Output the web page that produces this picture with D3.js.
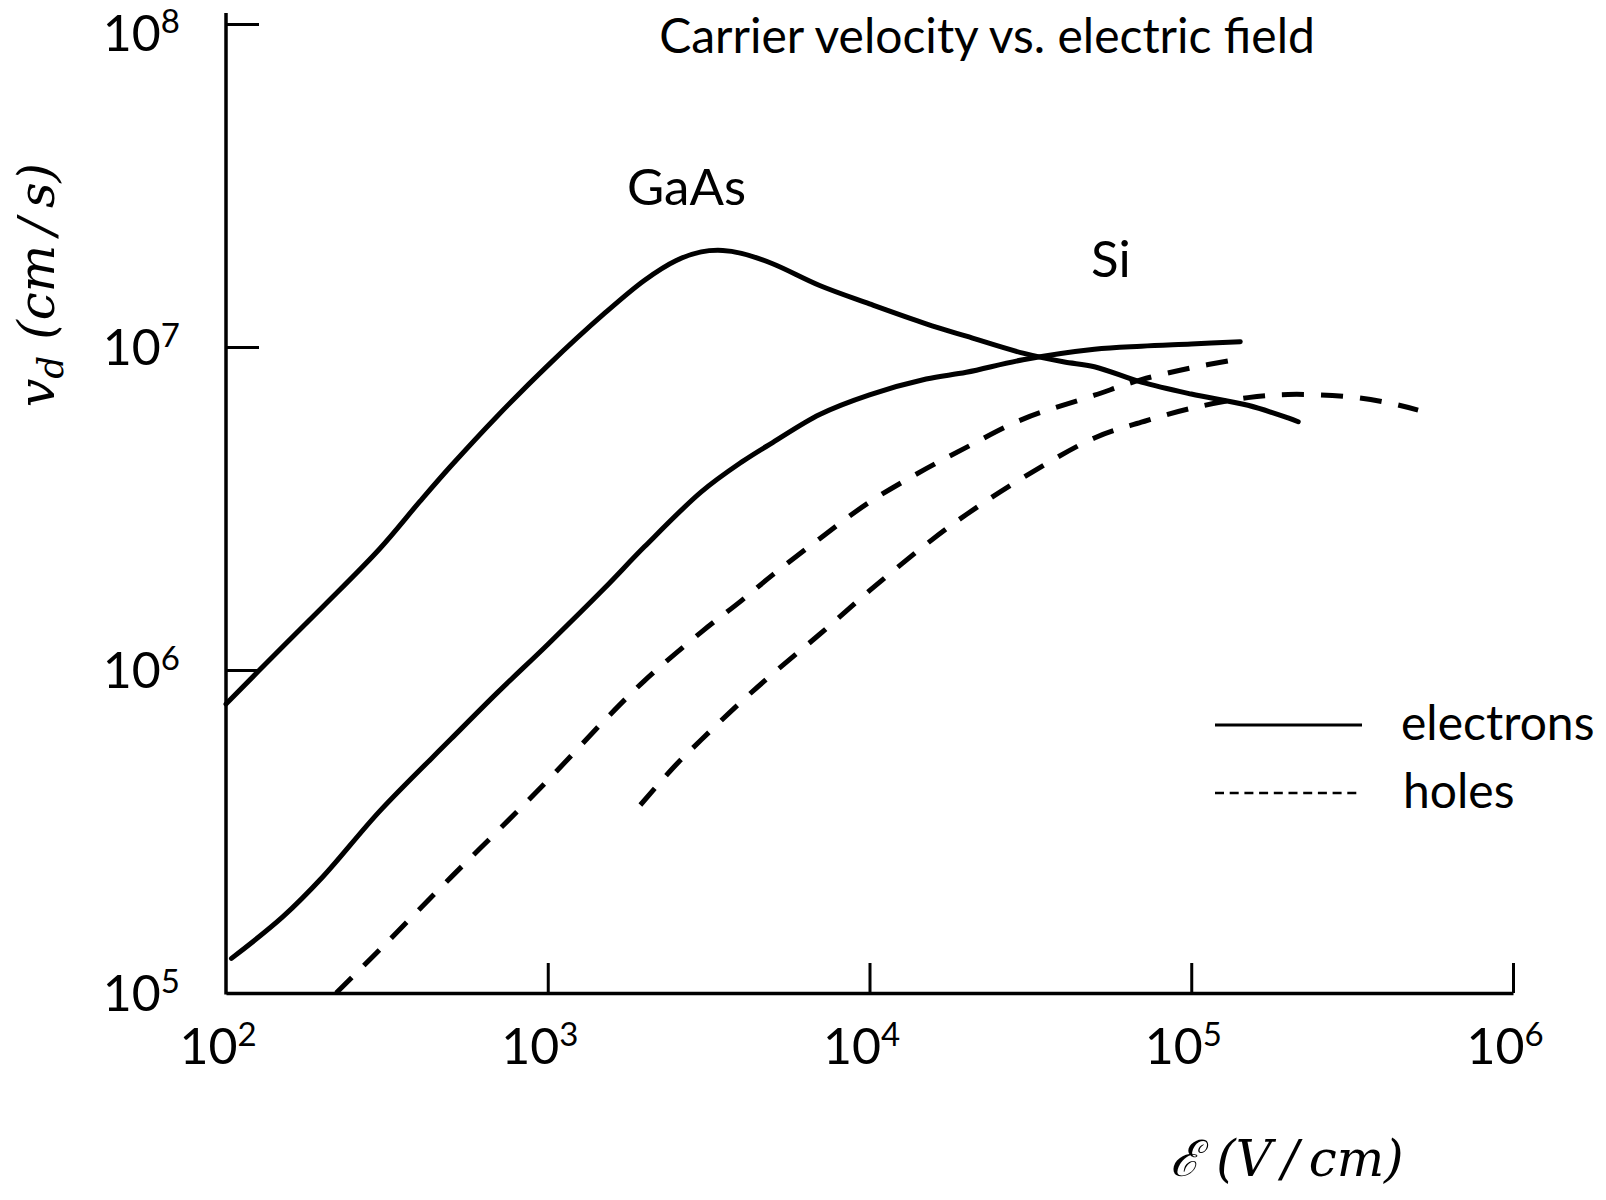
<!DOCTYPE html>
<html>
<head>
<meta charset="utf-8">
<script src="https://cdn.jsdelivr.net/npm/d3@7"></script>
<style>
  html, body { margin: 0; padding: 0; background: #fff; }
  svg { display: block; }
  text { fill: #000; }
  .lbl { font-family: Lato, "Open Sans", sans-serif; }
  .math { font-family: "DejaVu Serif", "Liberation Serif", serif; font-style: italic; }
</style>
</head>
<body>
<div id="chart"></div>
<script>
// field values (V/cm) and drift velocity (cm/s)
const gaasElecE = [100, 150, 200, 300, 400, 500, 700, 1000, 1500, 2000, 2500, 3000, 3500, 4000, 5000, 7000,
  1e4, 1.5e4, 2e4, 3e4, 4e4, 5e4, 7e4, 1e5, 1.5e5, 2e5, 2.15e5];
const gaasElecV = [7.85e5, 1.18e6, 1.57e6, 2.37e6, 3.32e6, 4.28e6, 6.14e6, 8.76e6, 1.27e7, 1.61e7, 1.85e7, 1.97e7, 1.99e7, 1.95e7, 1.81e7, 1.55e7,
  1.36e7, 1.18e7, 1.08e7, 9.57e6, 9.0e6, 8.69e6, 7.78e6, 7.15e6, 6.60e6, 6.03e6, 5.87e6];

const siElecE = [104, 150, 200, 300, 500, 700, 1000, 1500, 2000, 3000, 4000, 5000, 7000,
  1e4, 1.5e4, 2e4, 3e4, 5e4, 7e4, 1e5, 1.42e5];
const siElecV = [1.28e5, 1.72e5, 2.29e5, 3.65e5, 6.11e5, 8.54e5, 1.20e6, 1.79e6, 2.41e6, 3.56e6, 4.40e6, 5.06e6, 6.18e6,
  7.11e6, 7.96e6, 8.35e6, 9.13e6, 9.84e6, 1.006e7, 1.022e7, 1.039e7];

const siHoleE = [220, 300, 500, 700, 1000, 1500, 2000, 3000, 4000, 5000, 7000,
  1e4, 1.5e4, 2e4, 3e4, 5e4, 7e4, 1e5, 1.36e5];
const siHoleV = [1.0e5, 1.36e5, 2.28e5, 3.18e5, 4.55e5, 6.98e5, 9.27e5, 1.31e6, 1.64e6, 1.97e6, 2.55e6,
  3.31e6, 4.20e6, 4.89e6, 5.98e6, 7.09e6, 7.92e6, 8.62e6, 9.12e6];

const gaasHoleE = [1940, 2500, 3000, 4000, 5000, 7000, 1e4, 1.5e4, 2e4, 3e4, 5e4, 7e4,
  1e5, 1.5e5, 2e5, 3e5, 4e5, 5.07e5];
const gaasHoleV = [3.82e5, 5.08e5, 6.08e5, 7.99e5, 9.73e5, 1.29e6, 1.76e6, 2.45e6, 3.03e6, 3.94e6, 5.23e6, 5.85e6,
  6.46e6, 6.97e6, 7.13e6, 7.03e6, 6.75e6, 6.38e6];

const xTicks = [1e2, 1e3, 1e4, 1e5, 1e6];
const yTicks = [1e5, 1e6, 1e7, 1e8];

const series = [
  { E: gaasElecE, v: gaasElecV, dashed: false },
  { E: siElecE, v: siElecV, dashed: false },
  { E: siHoleE, v: siHoleV, dashed: true },
  { E: gaasHoleE, v: gaasHoleV, dashed: true },
];

const width = 1606, height = 1200;

const x = d3.scaleLog().domain([1e2, 1e6]).range([226, 1513]);
const y = d3.scaleLog().domain([1e5, 1e8]).range([993, 24]);

const svg = d3.select('#chart').append('svg')
  .attr('width', width)
  .attr('height', height);

// x axis, ticks pointing up
svg.append('g')
  .attr('transform', `translate(0,${y(1e5)})`)
  .call(d3.axisBottom(x).tickValues(xTicks.slice(1)).tickSizeInner(-30).tickSizeOuter(0).tickFormat(''))
  .call(g => g.select('.domain').attr('stroke-width', 3.5))
  .call(g => g.selectAll('.tick line').attr('stroke-width', 3));

// y axis, ticks pointing right
svg.append('g')
  .attr('transform', `translate(${x(1e2)},0)`)
  .call(d3.axisLeft(y).tickValues(yTicks.slice(1)).tickSizeInner(-33).tickSizeOuter(0).tickFormat(''))
  .call(g => g.select('.domain').remove())
  .call(g => g.selectAll('.tick line').attr('stroke-width', 3));

svg.append('line')
  .attr('x1', x(1e2)).attr('x2', x(1e2))
  .attr('y1', y(1e5) + 1.5).attr('y2', y(1e8) - 11)
  .attr('stroke', '#000').attr('stroke-width', 3.5);

// power-of-ten labels
const expLabel = (sel) => {
  sel.text('10');
  sel.append('tspan')
    .attr('font-size', 33)
    .attr('dy', -18)
    .text(d => Math.round(Math.log10(d)));
};

svg.append('g').selectAll('text')
  .data(xTicks)
  .join('text')
    .attr('class', 'lbl')
    .attr('x', d => x(d) - 8)
    .attr('y', 1064)
    .attr('font-size', 50)
    .attr('text-anchor', 'middle')
    .call(expLabel);

svg.append('g').selectAll('text')
  .data(yTicks)
  .join('text')
    .attr('class', 'lbl')
    .attr('x', 180)
    .attr('y', d => Math.max(y(d) + 18, 51))
    .attr('font-size', 50)
    .attr('text-anchor', 'end')
    .call(expLabel);

// curves
const line = d3.line()
  .x(d => x(d[0]))
  .y(d => y(d[1]))
  .curve(d3.curveCatmullRom.alpha(0.5));

svg.append('g').selectAll('path')
  .data(series)
  .join('path')
    .attr('d', s => line(d3.zip(s.E, s.v)))
    .attr('fill', 'none')
    .attr('stroke', '#000')
    .attr('stroke-width', 5)
    .attr('stroke-linecap', s => s.dashed ? 'butt' : 'round')
    .attr('stroke-dasharray', s => s.dashed ? '22,17' : null);

// texts
svg.append('text')
  .attr('class', 'lbl')
  .attr('x', 987).attr('y', 53)
  .attr('font-size', 48)
  .attr('text-anchor', 'middle')
  .text('Carrier velocity vs. electric field');

svg.append('text')
  .attr('class', 'lbl')
  .attr('x', 627).attr('y', 205)
  .attr('font-size', 51)
  .text('GaAs');

svg.append('text')
  .attr('class', 'lbl')
  .attr('x', 1091).attr('y', 277)
  .attr('font-size', 51)
  .text('Si');

// legend
svg.append('line')
  .attr('x1', 1215).attr('x2', 1362).attr('y1', 725).attr('y2', 725)
  .attr('stroke', '#000').attr('stroke-width', 3);
svg.append('line')
  .attr('x1', 1215).attr('x2', 1362).attr('y1', 793).attr('y2', 793)
  .attr('stroke', '#000').attr('stroke-width', 2.5)
  .attr('stroke-dasharray', '9,5.7');
svg.append('text')
  .attr('class', 'lbl')
  .attr('x', 1401).attr('y', 740)
  .attr('font-size', 48)
  .text('electrons');
svg.append('text')
  .attr('class', 'lbl')
  .attr('x', 1403).attr('y', 808)
  .attr('font-size', 48)
  .text('holes');

// axis titles
const yTitle = svg.append('text')
  .attr('class', 'math')
  .attr('transform', 'translate(54,285) rotate(-90)')
  .attr('font-size', 50)
  .attr('text-anchor', 'middle');
yTitle.append('tspan').text('v');
yTitle.append('tspan').attr('font-size', 36).attr('dy', 9).text('d');
yTitle.append('tspan').attr('dy', -9).text(' (cm\u2009/\u2009s)');

svg.append('text')
  .attr('class', 'math')
  .attr('x', 1287).attr('y', 1176)
  .attr('font-size', 50)
  .attr('text-anchor', 'middle')
  .text('\u2130 (V\u2009/\u2009cm)');
</script>
</body>
</html>
